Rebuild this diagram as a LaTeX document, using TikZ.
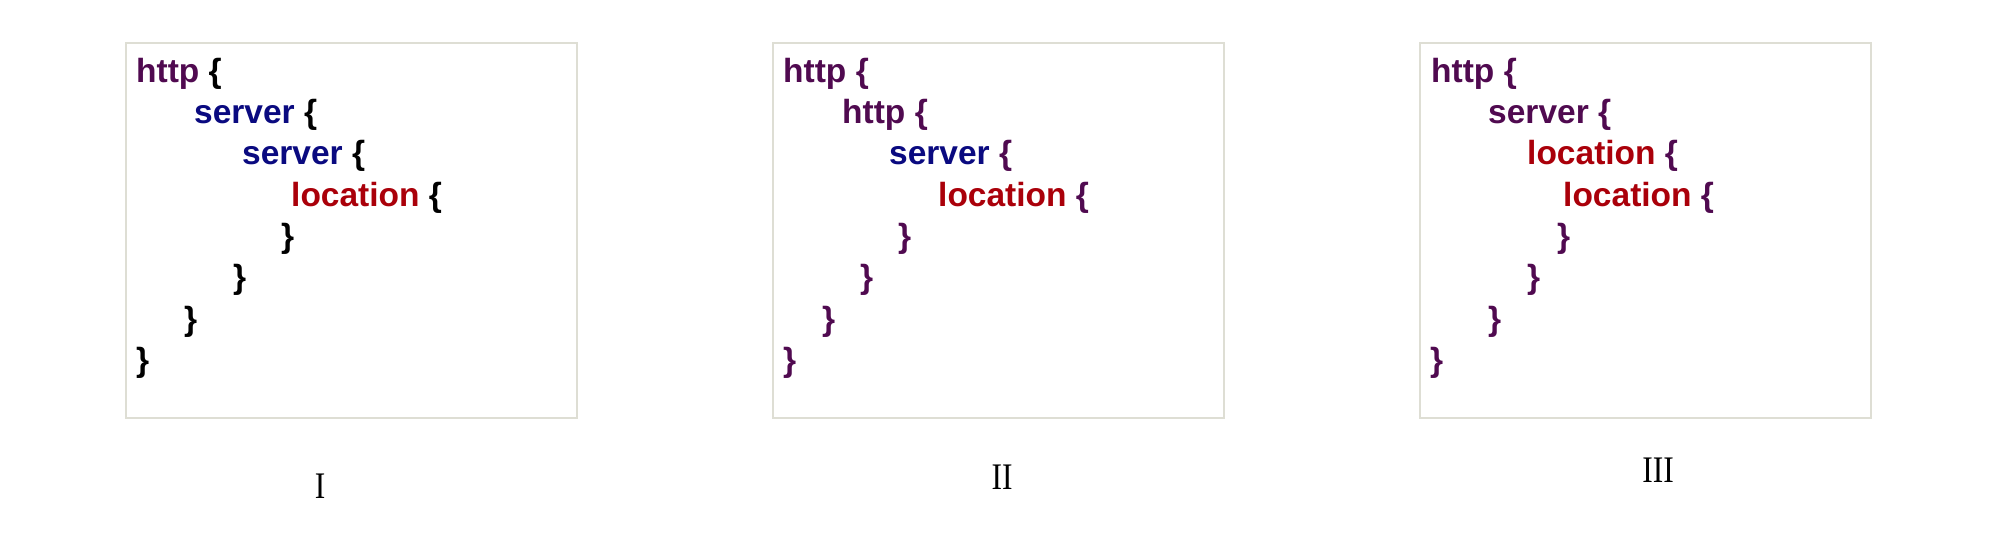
\documentclass[tikz,border=0pt]{standalone}
\usepackage{fontspec}
\setmainfont{Liberation Sans}
\newfontfamily\labelfont[FakeStretch=0.84]{Liberation Serif}
\definecolor{httpc}{RGB}{80,10,80}
\definecolor{serverc}{RGB}{10,10,128}
\definecolor{locc}{RGB}{170,0,10}
\definecolor{framec}{RGB}{222,222,212}
\newcommand{\Hw}{\textcolor{httpc}{http}}
\newcommand{\Sw}{\textcolor{serverc}{server}}
\newcommand{\Lw}{\textcolor{locc}{location}}
\tikzset{
  codebox/.style={draw=framec, line width=1.5pt, fill=white, minimum width=451pt, minimum height=375pt, anchor=north west, inner sep=0pt},
  codeline/.style={anchor=base west, inner sep=0pt, font=\fontsize{33.5pt}{40pt}\selectfont\bfseries},
  numlabel/.style={anchor=base, inner sep=0pt, font=\fontsize{37.5pt}{44pt}\selectfont\labelfont}
}
\begin{document}
\begin{tikzpicture}[x=1pt,y=-1pt]
\useasboundingbox[fill=white] (0,0) rectangle (2011,539);
% boxes
\node[codebox] (b1) at (125,42) {};
\node[codebox] (b2) at (772,42) {};
\node[codebox] (b3) at (1419,42) {};
% box I
\begin{scope}[every node/.style={codeline}]
\node (a1) at (136,82) {\Hw{} \color{black}\{};
\node (a2) at (194,123) {\Sw{} \color{black}\{};
\node (a3) at (242,164) {\Sw{} \color{black}\{};
\node (a4) at (291,206) {\Lw{} \color{black}\{};
\node (a5) at (281,247) {\color{black}\}};
\node (a6) at (233,288) {\color{black}\}};
\node (a7) at (184,330) {\color{black}\}};
\node (a8) at (136,371) {\color{black}\}};
% box II
\node (c1) at (783,82) {\Hw{} \color{httpc}\{};
\node (c2) at (842,123) {\Hw{} \color{httpc}\{};
\node (c3) at (889,164) {\Sw{} \color{httpc}\{};
\node (c4) at (938,206) {\Lw{} \color{httpc}\{};
\node (c5) at (898,247) {\color{httpc}\}};
\node (c6) at (860,288) {\color{httpc}\}};
\node (c7) at (822,330) {\color{httpc}\}};
\node (c8) at (783,371) {\color{httpc}\}};
% box III
\node (d1) at (1431,82) {\Hw{} \color{httpc}\{};
\node (d2) at (1488,123) {\textcolor{httpc}{server} \color{httpc}\{};
\node (d3) at (1527,164) {\Lw{} \color{httpc}\{};
\node (d4) at (1563,206) {\Lw{} \color{httpc}\{};
\node (d5) at (1557,247) {\color{httpc}\}};
\node (d6) at (1527,288) {\color{httpc}\}};
\node (d7) at (1488,330) {\color{httpc}\}};
\node (d8) at (1430,371) {\color{httpc}\}};
\end{scope}
% labels
\node[numlabel] (l1) at (320,498) {I};
\node[numlabel] (l2) at (1002,489) {II};
\node[numlabel] (l3) at (1658,482) {III};
\end{tikzpicture}
\end{document}
